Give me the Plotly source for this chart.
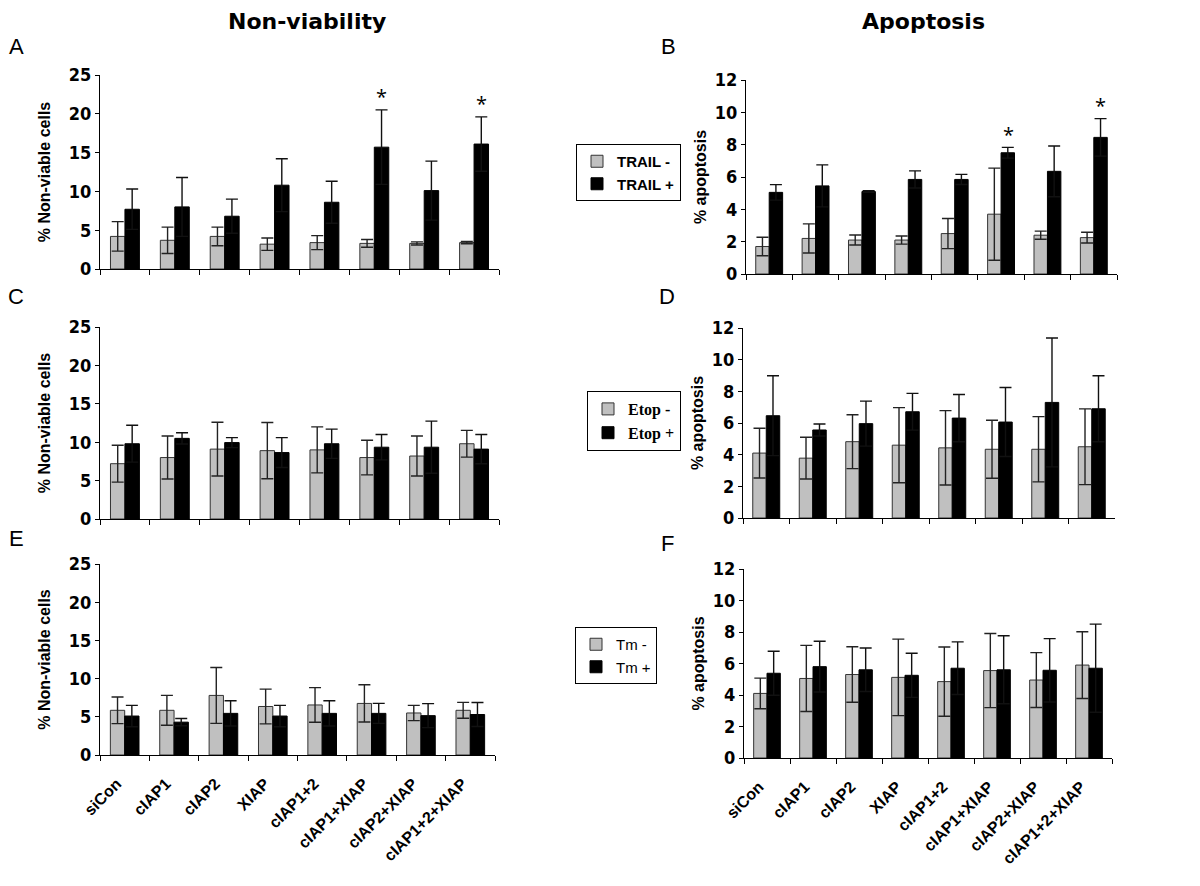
import plotly.graph_objects as go
from plotly.subplots import make_subplots

# siRNA targets
categories = ['siCon', 'cIAP1', 'cIAP2', 'XIAP', 'cIAP1+2',
              'cIAP1+XIAP', 'cIAP2+XIAP', 'cIAP1+2+XIAP']

# A: non-viability, TRAIL
nv_trail_neg = [4.2, 3.7, 4.2, 3.2, 3.4, 3.3, 3.3, 3.4]
nv_trail_neg_err = [1.9, 1.7, 1.2, 0.8, 0.9, 0.5, 0.2, 0.15]
nv_trail_pos = [7.7, 8.0, 6.8, 10.8, 8.6, 15.7, 10.1, 16.1]
nv_trail_pos_err = [2.6, 3.8, 2.2, 3.4, 2.7, 4.8, 3.8, 3.5]

# B: apoptosis, TRAIL
ap_trail_neg = [1.7, 2.2, 2.1, 2.1, 2.5, 3.7, 2.4, 2.25]
ap_trail_neg_err = [0.57, 0.9, 0.31, 0.25, 0.93, 2.85, 0.25, 0.33]
ap_trail_pos = [5.05, 5.45, 5.1, 5.85, 5.85, 7.5, 6.35, 8.45]
ap_trail_pos_err = [0.48, 1.3, 0.05, 0.53, 0.31, 0.33, 1.57, 1.16]

# C: non-viability, etoposide
nv_etop_neg = [7.2, 8.0, 9.1, 8.9, 9.0, 8.0, 8.2, 9.8]
nv_etop_neg_err = [2.4, 2.8, 3.5, 3.66, 3.0, 2.26, 2.6, 1.74]
nv_etop_pos = [9.8, 10.5, 9.95, 8.65, 9.8, 9.35, 9.35, 9.1]
nv_etop_pos_err = [2.4, 0.74, 0.65, 1.95, 1.9, 1.65, 3.4, 1.9]

# D: apoptosis, etoposide
ap_etop_neg = [4.1, 3.78, 4.82, 4.6, 4.43, 4.34, 4.34, 4.5]
ap_etop_neg_err = [1.57, 1.32, 1.7, 2.37, 2.35, 1.83, 2.06, 2.39]
ap_etop_pos = [6.46, 5.56, 5.96, 6.71, 6.31, 6.06, 7.3, 6.9]
ap_etop_pos_err = [2.52, 0.38, 1.42, 1.16, 1.49, 2.18, 4.07, 2.08]

# E: non-viability, tunicamycin
nv_tm_neg = [5.85, 5.85, 7.8, 6.35, 6.55, 6.75, 5.5, 5.85]
nv_tm_neg_err = [1.74, 1.96, 3.66, 2.27, 2.27, 2.44, 1.0, 1.04]
nv_tm_pos = [5.1, 4.3, 5.45, 5.1, 5.45, 5.45, 5.15, 5.3]
nv_tm_pos_err = [1.4, 0.48, 1.66, 1.4, 1.66, 1.31, 1.57, 1.57]

# F: apoptosis, tunicamycin
ap_tm_neg = [4.1, 5.05, 5.3, 5.12, 4.85, 5.55, 4.95, 5.9]
ap_tm_neg_err = [0.97, 2.1, 1.76, 2.43, 2.2, 2.35, 1.74, 2.12]
ap_tm_pos = [5.38, 5.8, 5.6, 5.25, 5.7, 5.6, 5.57, 5.7]
ap_tm_pos_err = [1.4, 1.61, 1.38, 1.4, 1.67, 2.16, 2.01, 2.8]

# significant (*) bars, by category index
sig_trail_nv = [5, 7]
sig_trail_ap = [5, 7]

GREY = '#c0c0c0'
TICKFONT = 'Liberation Sans Narrow, DejaVu Sans Condensed, Arial Narrow, sans-serif'
W, H = 1200, 886
OFF = 8  # page body margin


def px_x(px):
    return (px - OFF) / W


def px_y(py):
    return 1 - (py - OFF) / H


fig = make_subplots(rows=3, cols=2)

panels = [
    # row, col, neg, neg_err, pos, pos_err, names, legend
    (1, 1, nv_trail_neg, nv_trail_neg_err, nv_trail_pos, nv_trail_pos_err, ('TRAIL -', 'TRAIL +'), 'legend'),
    (1, 2, ap_trail_neg, ap_trail_neg_err, ap_trail_pos, ap_trail_pos_err, ('TRAIL -', 'TRAIL +'), 'legend'),
    (2, 1, nv_etop_neg, nv_etop_neg_err, nv_etop_pos, nv_etop_pos_err, ('Etop -', 'Etop +'), 'legend2'),
    (2, 2, ap_etop_neg, ap_etop_neg_err, ap_etop_pos, ap_etop_pos_err, ('Etop -', 'Etop +'), 'legend2'),
    (3, 1, nv_tm_neg, nv_tm_neg_err, nv_tm_pos, nv_tm_pos_err, ('Tm -', 'Tm +'), 'legend3'),
    (3, 2, ap_tm_neg, ap_tm_neg_err, ap_tm_pos, ap_tm_pos_err, ('Tm -', 'Tm +'), 'legend3'),
]

for row, col, neg, neg_err, pos, pos_err, names, leg in panels:
    fig.add_trace(go.Bar(x=categories, y=neg, name=names[0], legend=leg,
                         showlegend=(col == 1),
                         marker=dict(color=GREY, line=dict(color='#333333', width=1)),
                         error_y=dict(type='data', array=neg_err, color='#222222',
                                      thickness=1.4, width=6)),
                  row=row, col=col)
    fig.add_trace(go.Bar(x=categories, y=pos, name=names[1], legend=leg,
                         showlegend=(col == 1),
                         marker=dict(color='black', line=dict(color='black', width=1)),
                         error_y=dict(type='data', array=pos_err, color='#111111',
                                      thickness=1.4, width=6)),
                  row=row, col=col)

# axis boxes in reference pixels: (left, right, top, bottom)
boxes = {
    1: (100, 499, 75, 269),
    2: (746, 1117, 80, 274),
    3: (100, 499, 327, 519),
    4: (743, 1115, 328, 518),
    5: (100, 495, 564, 755),
    6: (744, 1112, 569, 758),
}

for i, (l, r, t, b) in boxes.items():
    suffix = '' if i == 1 else str(i)
    left = i % 2 == 1
    fig.layout['xaxis' + suffix].update(
        domain=[px_x(l), px_x(r)], showline=True, linecolor='black', linewidth=1.3,
        ticks='outside', ticklen=5, tickcolor='black', tickson='boundaries',
        showticklabels=(i >= 5), tickangle=-45, showgrid=False, automargin=False,
        ticklabelstandoff=12, ticklabelshift=-8,
        tickfont=dict(family='Liberation Sans, Arial, sans-serif', size=16,
                      color='black', weight='bold'))
    fig.layout['yaxis' + suffix].update(
        domain=[px_y(b), px_y(t)], showline=True, linecolor='black', linewidth=1.3,
        ticks='outside', ticklen=4, tickcolor='black', showgrid=False,
        zeroline=False, automargin=False,
        range=[0, 25] if left else [0, 12],
        dtick=5 if left else 2,
        tickfont=dict(family=TICKFONT, size=18, color='black', weight='bold'),
        title=dict(text='% Non-viable cells' if left else '% apoptosis',
                   standoff=14 if left else 4,
                   font=dict(family='Liberation Sans, Arial, sans-serif', size=16,
                             color='black', weight='bold')))

# asterisks over significant TRAIL+ bars
for idx in sig_trail_nv:
    fig.add_annotation(x=categories[idx], y=nv_trail_pos[idx] + nv_trail_pos_err[idx],
                       xref='x', yref='y', text='*', showarrow=False,
                       xshift=7, yshift=13, font=dict(size=20, color='black'))
for idx in sig_trail_ap:
    fig.add_annotation(x=categories[idx], y=ap_trail_pos[idx] + ap_trail_pos_err[idx],
                       xref='x2', yref='y2', text='*', showarrow=False,
                       xshift=7, yshift=13, font=dict(size=20, color='black'))

# column titles
for txt, xc in [('Non-viability', 307), ('Apoptosis', 923)]:
    fig.add_annotation(x=px_x(xc), y=px_y(21), xref='paper', yref='paper', text=txt,
                       xanchor='center', yanchor='middle', showarrow=False,
                       font=dict(family='DejaVu Sans, sans-serif', size=22,
                                 color='black', weight='bold'))

# panel letters
letters = [('A', 16, 46), ('B', 668, 46), ('C', 16, 297),
           ('D', 667, 297), ('E', 16, 538), ('F', 667, 543)]
for txt, px, py in letters:
    fig.add_annotation(x=px_x(px), y=px_y(py), xref='paper', yref='paper',
                       text=txt, xanchor='center', yanchor='middle', showarrow=False,
                       font=dict(family='Liberation Sans, Arial, sans-serif',
                                 size=22, color='black'))

legend_style = dict(bgcolor='white', bordercolor='black', borderwidth=1,
                    xanchor='left', yanchor='top', tracegroupgap=0,
                    itemwidth=30, traceorder='normal')

fig.update_layout(
    width=W, height=H,
    margin=dict(l=0, r=0, t=0, b=0, autoexpand=False),
    paper_bgcolor='white', plot_bgcolor='white',
    barmode='group', bargap=0.42, bargroupgap=0,
    legend=dict(x=px_x(576), y=px_y(144),
                font=dict(family='Liberation Sans, Arial, sans-serif', size=15,
                          color='black', weight='bold'), **legend_style),
    legend2=dict(x=px_x(587), y=px_y(391),
                 font=dict(family='Liberation Serif, Times New Roman, serif', size=16,
                           color='black', weight='bold'), **legend_style),
    legend3=dict(x=px_x(575), y=px_y(627),
                 font=dict(family='Liberation Sans, Arial, sans-serif', size=15,
                           color='black'), **legend_style),
)

fig.write_html("out.html")
